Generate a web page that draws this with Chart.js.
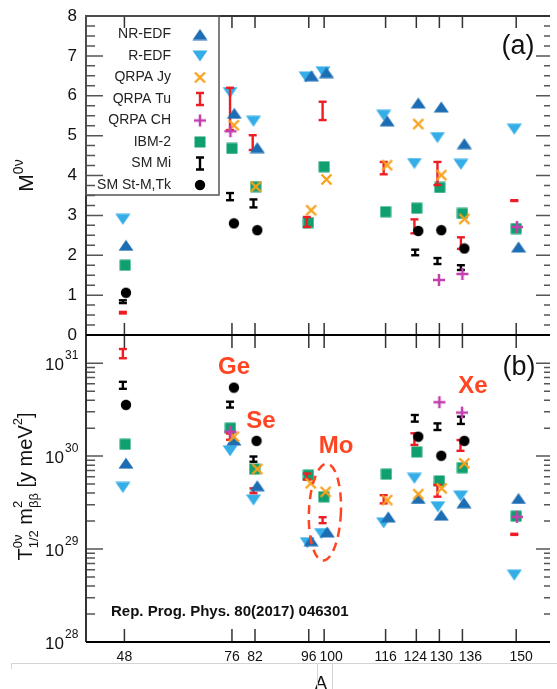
<!DOCTYPE html>
<html>
<head>
<meta charset="utf-8">
<script src="https://cdn.jsdelivr.net/npm/chart.js@4.4.0/dist/chart.umd.min.js"></script>
<style>
  body { margin: 0; background: #fff; }
</style>
</head>
<body>
<canvas id="nmeChart" width="557" height="689"></canvas>
<script>
const FONT = '"Liberation Sans", Arial, Helvetica, sans-serif';

// mass numbers shown on the x axis
const massNumbers = [48, 76, 82, 96, 100, 116, 124, 130, 136, 150];
const seriesNames = ['NR-EDF', 'R-EDF', 'QRPA Jy', 'QRPA Tu', 'QRPA CH', 'IBM-2', 'SM Mi', 'SM St-M,Tk'];

// (a) matrix elements M0v  -> [A, value]
const nrEdfM = [[48.4, 2.25], [76.6, 5.56], [82.6, 4.70], [96.7, 6.50], [100.6, 6.58], [116.4, 5.37], [124.5, 5.82], [130.5, 5.72], [136.5, 4.80], [150.6, 2.21]];
const rEdfM = [[47.6, 2.90], [75.5, 6.08], [81.6, 5.36], [95.3, 6.47], [99.7, 6.60], [115.5, 5.51], [123.5, 4.30], [129.5, 4.95], [135.6, 4.28], [149.5, 5.16]];
const qrpaJyM = [[76.5, 5.26], [82.2, 3.72], [96.6, 3.13], [100.6, 3.90], [116.4, 4.26], [124.5, 5.29], [130.5, 4.01], [136.5, 2.91]];
const qrpaChM = [[75.6, 5.11], [129.9, 1.38], [136.0, 1.53], [150.2, 2.71]];
const ibm2M = [[48.2, 1.75], [76.0, 4.68], [82.2, 3.72], [95.9, 2.82], [100.0, 4.22], [116.0, 3.09], [124.1, 3.18], [130.1, 3.70], [136.0, 3.05], [150.0, 2.67]];
const smStmM = [[48.4, 1.06], [76.5, 2.80], [82.6, 2.63], [124.5, 2.61], [130.5, 2.63], [136.5, 2.17]];
// ranges -> [A, low, high]
const qrpaTuM = [[47.6, 0.54, 0.58], [75.5, 5.14, 6.20], [81.4, 4.64, 5.01], [95.5, 2.71, 2.96], [99.6, 5.39, 5.85], [115.5, 4.03, 4.34], [123.5, 2.55, 2.90], [129.5, 3.76, 4.34], [135.6, 2.16, 2.45], [149.5, 3.36, 3.38]];
const smMiM = [[47.6, 0.80, 0.87], [75.5, 3.38, 3.56], [81.6, 3.20, 3.40], [123.7, 2.00, 2.14], [129.5, 1.78, 1.93], [135.6, 1.63, 1.75]];

// (b) T1/2 * m_bb^2 [y meV^2]
const nrEdfT = [[48.4, 8.4e29], [76.5, 1.49e30], [82.6, 4.8e29], [96.6, 1.23e29], [100.8, 1.53e29], [116.7, 2.22e29], [124.5, 3.5e29], [130.5, 2.32e29], [136.4, 3.15e29], [150.6, 3.5e29]];
const rEdfT = [[47.6, 4.6e29], [75.5, 1.14e30], [81.6, 3.37e29], [95.6, 1.17e29], [99.3, 1.47e29], [115.5, 1.91e29], [123.5, 5.77e29], [129.6, 2.85e29], [135.5, 3.72e29], [149.5, 5.24e28]];
const qrpaJyT = [[76.5, 1.62e30], [82.6, 7.26e29], [96.5, 5.1e29], [100.4, 4.13e29], [116.4, 3.37e29], [124.5, 3.9e29], [130.6, 4.5e29], [136.5, 8.36e29]];
const qrpaChT = [[75.6, 1.83e30], [130.0, 3.8e30], [135.9, 2.94e30], [150.2, 2.22e29]];
const ibm2T = [[48.2, 1.34e30], [75.6, 2.0e30], [81.9, 7.26e29], [95.9, 6.25e29], [99.9, 3.65e29], [116.2, 6.4e29], [124.1, 1.11e30], [130.0, 5.4e29], [136.0, 7.5e29], [150.0, 2.26e29]];
const smStmT = [[48.4, 3.56e30], [76.5, 5.46e30], [82.4, 1.46e30], [124.5, 1.62e30], [130.5, 1.01e30], [136.5, 1.46e30]];
const qrpaTuT = [[47.6, 1.13e31, 1.42e31], [75.5, 1.5e30, 1.75e30], [81.6, 4.0e29, 4.5e29], [95.5, 5.6e29, 6.5e29], [99.6, 1.9e29, 2.2e29], [115.5, 3.1e29, 3.8e29], [123.5, 1.32e30, 1.76e30], [129.5, 3.66e29, 4.9e29], [135.5, 1.14e30, 1.49e30], [149.5, 1.42e29, 1.46e29]];
const smMiT = [[47.6, 5.3e30, 6.3e30], [75.5, 3.33e30, 3.85e30], [81.6, 8.7e29, 9.9e29], [123.6, 2.35e30, 2.77e30], [129.5, 1.91e30, 2.25e30], [135.6, 2.22e30, 2.66e30]];

const colNR = '#1c6db4';
const colR = '#35aee8';
const colJy = '#f9a11b';
const colTu = '#ee1d23';
const colCH = '#c23fae';
const colIBM = '#10a070';
const colNote = '#ff4522';

// the original nudges some crowded tick labels sideways
const labelShift = { 100: 7, 124: -1, 130: 2, 136: 8, 150: 5 };

function markerCanvas(w, h, paint) {
    const c = document.createElement('canvas');
    c.width = w;
    c.height = h;
    paint(c.getContext('2d'));
    return c;
}

const upTri = markerCanvas(16, 12, c => {
    c.fillStyle = colNR;
    c.beginPath(); c.moveTo(8, 0.5); c.lineTo(15.5, 11.5); c.lineTo(0.5, 11.5); c.closePath(); c.fill();
});
const downTri = markerCanvas(16, 12, c => {
    c.fillStyle = colR;
    c.beginPath(); c.moveTo(0.5, 0.5); c.lineTo(15.5, 0.5); c.lineTo(8, 11.5); c.closePath(); c.fill();
});
const xMark = markerCanvas(13, 13, c => {
    c.strokeStyle = colJy; c.lineWidth = 2.4;
    c.beginPath(); c.moveTo(1.5, 1.5); c.lineTo(11.5, 11.5); c.moveTo(11.5, 1.5); c.lineTo(1.5, 11.5); c.stroke();
});
const plusMark = markerCanvas(14, 14, c => {
    c.strokeStyle = colCH; c.lineWidth = 2.5;
    c.beginPath(); c.moveTo(7, 1); c.lineTo(7, 13); c.moveTo(1, 7); c.lineTo(13, 7); c.stroke();
});
const squareMark = markerCanvas(12, 12, c => {
    c.fillStyle = colIBM; c.fillRect(0.5, 0.5, 11, 11);
});
const dotMark = markerCanvas(12, 12, c => {
    c.fillStyle = '#000'; c.beginPath(); c.arc(6, 6, 5.2, 0, 2 * Math.PI); c.fill();
});

function scatterSet(label, data, axis, marker, order) {
    return {
        label: label,
        data: data.map(([x, y]) => ({ x: x, y: y })),
        yAxisID: axis,
        pointStyle: marker,
        pointRadius: 6,
        showLine: false,
        order: order
    };
}

function barSet(label, data, axis, color, order) {
    return {
        label: label,
        data: data.flatMap(([x, lo, hi]) => [{ x: x, y: lo }, { x: x, y: hi }, { x: x, y: null }]),
        yAxisID: axis,
        showLine: true,
        spanGaps: false,
        borderColor: color,
        borderWidth: 2.4,
        pointStyle: 'line',
        pointRadius: 4,
        pointBorderColor: color,
        pointBorderWidth: 2.4,
        order: order
    };
}

const datasets = [
    scatterSet(seriesNames[7], smStmM, 'yA', dotMark, 1),
    scatterSet(seriesNames[7], smStmT, 'yB', dotMark, 1),
    scatterSet(seriesNames[4], qrpaChM, 'yA', plusMark, 2),
    scatterSet(seriesNames[4], qrpaChT, 'yB', plusMark, 2),
    scatterSet(seriesNames[2], qrpaJyM, 'yA', xMark, 3),
    scatterSet(seriesNames[2], qrpaJyT, 'yB', xMark, 3),
    scatterSet(seriesNames[0], nrEdfM, 'yA', upTri, 3.5),
    scatterSet(seriesNames[0], nrEdfT, 'yB', upTri, 3.5),
    barSet(seriesNames[3], qrpaTuM, 'yA', colTu, 4),
    barSet(seriesNames[3], qrpaTuT, 'yB', colTu, 4),
    barSet(seriesNames[6], smMiM, 'yA', '#000', 4),
    barSet(seriesNames[6], smMiT, 'yB', '#000', 4),
    scatterSet(seriesNames[1], rEdfM, 'yA', downTri, 6),
    scatterSet(seriesNames[1], rEdfT, 'yB', downTri, 6),
    scatterSet(seriesNames[5], ibm2M, 'yA', squareMark, 7),
    scatterSet(seriesNames[5], ibm2T, 'yB', squareMark, 7)
];

// text pieces drawn along a rotated baseline; each group shares one x position
function drawRotatedRich(ctx, groups, cx, cy) {
    ctx.save();
    ctx.translate(cx, cy);
    ctx.rotate(-Math.PI / 2);
    ctx.textBaseline = 'alphabetic';
    ctx.textAlign = 'left';
    const widths = groups.map(g => Math.max(...g.map(p => {
        ctx.font = p.size + 'px ' + FONT;
        return ctx.measureText(p.t).width;
    })));
    let pos = -widths.reduce((a, b) => a + b, 0) / 2;
    groups.forEach((g, i) => {
        g.forEach(p => {
            ctx.font = p.size + 'px ' + FONT;
            ctx.fillText(p.t, pos, p.dy);
        });
        pos += widths[i];
    });
    ctx.restore();
}

const panelDecor = {
    id: 'panelDecor',
    beforeDatasetsDraw(chart) {
        const ctx = chart.ctx;
        const area = chart.chartArea;
        const xs = chart.scales.x, yA = chart.scales.yA, yB = chart.scales.yB;
        const mid = yA.bottom;
        ctx.save();

        // ticks
        ctx.strokeStyle = '#555';
        ctx.lineWidth = 1.5;
        ctx.beginPath();
        for (let v = 0; v <= 8; v += 0.25) {
            const p = yA.getPixelForValue(v);
            const major = Number.isInteger(v);
            ctx.moveTo(area.left, p); ctx.lineTo(area.left + (major ? 17 : 9), p);
            ctx.moveTo(area.right, p); ctx.lineTo(area.right - (major ? 14 : 6), p);
        }
        for (let e = 28; e <= 31; e++) {
            for (let k = 1; k <= 9; k++) {
                const v = k * Math.pow(10, e);
                if (v > yB.max) break;
                const p = yB.getPixelForValue(v);
                ctx.moveTo(area.left, p); ctx.lineTo(area.left + (k === 1 ? 17 : 9), p);
                ctx.moveTo(area.right, p); ctx.lineTo(area.right - (k === 1 ? 14 : 6), p);
            }
        }
        ctx.stroke();
        ctx.strokeStyle = '#333';
        ctx.beginPath();
        massNumbers.forEach(a => {
            const px = xs.getPixelForValue(a);
            ctx.moveTo(px, area.top); ctx.lineTo(px, area.top + 12);
            ctx.moveTo(px, mid - 12); ctx.lineTo(px, mid + 13);
            ctx.moveTo(px, area.bottom); ctx.lineTo(px, area.bottom - 13);
        });
        ctx.stroke();

        // frame (right edge lies at the border of the picture)
        ctx.lineWidth = 2;
        ctx.strokeStyle = '#333';
        ctx.beginPath();
        ctx.moveTo(area.left, area.bottom); ctx.lineTo(area.left, area.top);
        ctx.lineTo(area.right, area.top);
        ctx.stroke();
        ctx.strokeStyle = '#000';
        ctx.beginPath();
        ctx.moveTo(area.left, mid); ctx.lineTo(area.right, mid);
        ctx.moveTo(area.left, area.bottom); ctx.lineTo(area.right, area.bottom);
        ctx.stroke();

        // y tick labels
        ctx.fillStyle = '#111';
        ctx.textBaseline = 'middle';
        ctx.textAlign = 'right';
        ctx.font = '17px ' + FONT;
        for (let v = 0; v <= 8; v++) {
            ctx.fillText(String(v), 77, yA.getPixelForValue(v));
        }
        for (let e = 28; e <= 31; e++) {
            const p = yB.getPixelForValue(Math.pow(10, e));
            ctx.textAlign = 'right';
            ctx.font = '17px ' + FONT;
            ctx.fillText('10', 64, p + 2);
            ctx.textAlign = 'left';
            ctx.font = '12px ' + FONT;
            ctx.fillText(String(e), 65, p - 7);
        }

        // x tick labels
        ctx.textAlign = 'center';
        ctx.font = '14px ' + FONT;
        massNumbers.forEach(a => {
            ctx.fillText(String(a), xs.getPixelForValue(a) + (labelShift[a] || 0), area.bottom + 15);
        });

        // axis titles
        drawRotatedRich(ctx, [
            [{ t: 'M', size: 21, dy: 0 }],
            [{ t: '0ν', size: 14, dy: -10 }]
        ], 33, (area.top + mid) / 2);
        drawRotatedRich(ctx, [
            [{ t: 'T', size: 20, dy: 0 }],
            [{ t: '0ν', size: 13, dy: -10 }, { t: '1/2', size: 13, dy: 6 }],
            [{ t: ' m', size: 20, dy: 0 }],
            [{ t: '2', size: 13, dy: -10 }, { t: 'ββ', size: 13, dy: 6 }],
            [{ t: ' [y meV', size: 20, dy: 0 }],
            [{ t: '2', size: 13, dy: -10 }],
            [{ t: ']', size: 20, dy: 0 }]
        ], 32, (mid + area.bottom) / 2 - 2);

        ctx.textAlign = 'center';
        ctx.textBaseline = 'middle';
        ctx.font = '18px ' + FONT;
        ctx.fillText('A', (area.left + area.right) / 2 + 3, 684);

        // panel tags and reference
        ctx.font = '27px ' + FONT;
        ctx.fillText('(a)', 518, 47);
        ctx.fillText('(b)', 519, 368);
        ctx.textAlign = 'left';
        ctx.font = 'bold 15px ' + FONT;
        ctx.fillText('Rep. Prog. Phys. 80(2017) 046301', 111, 612);

        // faint window divider under the axis
        ctx.strokeStyle = '#d4d4d4';
        ctx.lineWidth = 1;
        ctx.beginPath();
        ctx.moveTo(11.5, 669); ctx.lineTo(11.5, 663.5); ctx.lineTo(557, 663.5);
        ctx.moveTo(317.5, 663.5); ctx.lineTo(317.5, 689);
        ctx.moveTo(332.5, 663.5); ctx.lineTo(332.5, 689);
        ctx.stroke();
        ctx.restore();
    },
    afterDatasetsDraw(chart) {
        const ctx = chart.ctx;
        const area = chart.chartArea;
        const xs = chart.scales.x, yB = chart.scales.yB;
        ctx.save();

        // legend
        ctx.strokeStyle = '#555';
        ctx.lineWidth = 1.5;
        ctx.strokeRect(area.left, area.top, 219 - area.left, 195 - area.top);
        const markers = [upTri, downTri, xMark, colTu, plusMark, squareMark, '#000', dotMark];
        ctx.font = '14px ' + FONT;
        ctx.textAlign = 'right';
        ctx.textBaseline = 'middle';
        seriesNames.forEach((name, i) => {
            const y = 34.5 + i * 21.5;
            ctx.fillStyle = '#222';
            ctx.fillText(name, 171, y);
            const m = markers[i];
            if (typeof m === 'string') {
                ctx.strokeStyle = m;
                ctx.lineWidth = 2.4;
                ctx.beginPath();
                ctx.moveTo(200, y - 6); ctx.lineTo(200, y + 6);
                ctx.moveTo(196, y - 6); ctx.lineTo(204, y - 6);
                ctx.moveTo(196, y + 6); ctx.lineTo(204, y + 6);
                ctx.stroke();
            } else {
                ctx.drawImage(m, 200 - m.width / 2, y - m.height / 2);
            }
        });

        // nucleus labels
        ctx.fillStyle = colNote;
        ctx.font = 'bold 24px ' + FONT;
        ctx.textAlign = 'center';
        ctx.fillText('Ge', 234, 367);
        ctx.fillText('Se', 261, 421);
        ctx.fillText('Mo', 336, 446);
        ctx.fillText('Xe', 473, 386);

        // dashed ring around the Mo points
        ctx.strokeStyle = colNote;
        ctx.lineWidth = 2.5;
        ctx.setLineDash([9, 6]);
        ctx.beginPath();
        ctx.ellipse(xs.getPixelForValue(100.2), yB.getPixelForValue(2.5e29), 16, 48.5, 0.04, 0, 2 * Math.PI);
        ctx.stroke();
        ctx.restore();
    }
};

const chartCtx = document.getElementById('nmeChart').getContext('2d');
new Chart(chartCtx, {
    type: 'scatter',
    data: { datasets: datasets },
    options: {
        responsive: false,
        animation: false,
        events: [],
        layout: { padding: { top: 16, right: 0, left: 0, bottom: 0 } },
        plugins: {
            legend: { display: false },
            tooltip: { enabled: false }
        },
        scales: {
            x: {
                type: 'linear',
                position: 'bottom',
                min: 38,
                max: 158.8,
                grid: { display: false, drawTicks: false },
                border: { display: false },
                ticks: { display: false },
                afterBuildTicks: s => { s.ticks = massNumbers.map(v => ({ value: v })); },
                afterFit: s => { s.height = 47; }
            },
            yA: {
                type: 'linear',
                position: 'left',
                stack: 'panels',
                stackWeight: 319,
                weight: 1,
                min: 0,
                max: 8,
                grid: { display: false },
                border: { display: false },
                ticks: { display: false },
                afterFit: s => { s.width = 86; }
            },
            yB: {
                type: 'logarithmic',
                position: 'left',
                stack: 'panels',
                stackWeight: 307,
                weight: 0,
                min: 1e28,
                max: 2.01e31,
                grid: { display: false },
                border: { display: false },
                ticks: { display: false },
                afterFit: s => { s.width = 86; }
            }
        }
    },
    plugins: [panelDecor]
});
</script>
</body>
</html>
